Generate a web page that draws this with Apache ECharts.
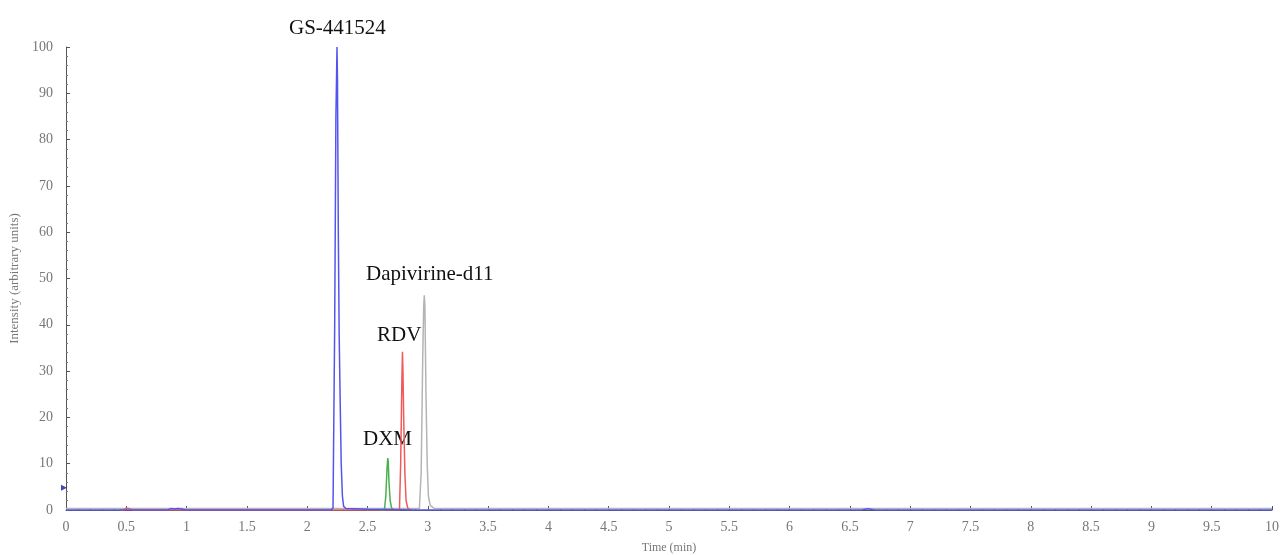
<!DOCTYPE html>
<html>
<head>
<meta charset="utf-8">
<script src="https://cdn.jsdelivr.net/npm/echarts@6/dist/echarts.min.js"></script>
<style>html,body{margin:0;padding:0;background:#fff}#c{width:1286px;height:555px}</style>
</head>
<body>
<div id="c"></div>
<script>
// Time (min) / intensity pairs
const gsTime = [0, 0.84, 0.87, 0.9, 0.93, 0.96, 0.99, 2.20, 2.214, 2.228, 2.238, 2.243, 2.247, 2.251, 2.258, 2.265, 2.272, 2.282, 2.292, 2.302, 2.32, 2.5, 2.9, 6.6, 6.65, 6.7, 10];
const gsVal  = [0, 0, 0.3, 0.2, 0.3, 0.2, 0, 0, 0.5, 40, 85, 93, 100, 93, 60, 38, 26, 10, 3, 0.8, 0.3, 0.15, 0, 0, 0.25, 0, 0];

const dxmTime = [2.60, 2.64, 2.652, 2.662, 2.668, 2.672, 2.678, 2.688, 2.70, 2.72];
const dxmVal  = [0, 0, 3, 9, 11.2, 10.5, 6, 2, 0.4, 0];

const rdvTime = [0.45, 0.48, 0.5, 0.52, 0.55, 2.74, 2.765, 2.775, 2.785, 2.79, 2.794, 2.80, 2.81, 2.82, 2.835, 2.86];
const rdvVal  = [0, 0, 0.4, 0.3, 0, 0, 0, 10, 28, 34.2, 30, 20, 8, 2, 0.3, 0];

const dapTime = [0, 2.90, 2.93, 2.945, 2.958, 2.966, 2.971, 2.976, 2.985, 2.995, 3.005, 3.02, 3.05, 3.1, 10];
const dapVal  = [0.3, 0.3, 0.3, 8, 33, 44, 46.4, 44, 25, 10, 3, 1, 0.4, 0.3, 0.3];

const markerTime = [0];
const markerVal = [4.8];

const peakLabels = ['GS-441524', 'DXM', 'RDV', 'Dapivirine-d11'];

const zip = (a, b) => a.map((t, i) => [t, b[i]]);

const chart = echarts.init(document.getElementById('c'), null, {renderer: 'canvas'});
const serif = 'Liberation Serif';
const lineSeries = (name, t, v, color, z) => ({
  name, type: 'line', data: zip(t, v), showSymbol: false, symbol: 'none',
  lineStyle: {color, width: 1.5}, z, animation: false
});
const labelFont = '21px "Liberation Serif"';

chart.setOption({
  animation: false,
  backgroundColor: '#fff',
  grid: {left: 66, right: 14, top: 47, bottom: 45, containLabel: false, outerBoundsMode: 'none'},
  xAxis: {
    type: 'value', min: 0, max: 10, interval: 0.5,
    name: 'Time (min)', nameLocation: 'middle', nameGap: 32,
    nameTextStyle: {fontFamily: serif, fontSize: 12, color: '#777'},
    axisLine: {lineStyle: {color: '#555', width: 1}},
    axisTick: {inside: true, length: 4, lineStyle: {color: '#555'}},
    minorTick: {show: true, splitNumber: 5, length: 2, lineStyle: {color: '#777'}},
    splitLine: {show: false},
    axisLabel: {fontFamily: serif, fontSize: 14, color: '#777', margin: 10,
      formatter: v => String(v)}
  },
  yAxis: {
    type: 'value', min: 0, max: 100, interval: 10,
    name: 'Intensity (arbitrary units)', nameLocation: 'middle', nameGap: 40,
    nameTextStyle: {fontFamily: serif, fontSize: 13, color: '#777'},
    axisLine: {show: true, lineStyle: {color: '#555', width: 1}},
    axisTick: {show: true, inside: true, length: 4, lineStyle: {color: '#555'}},
    minorTick: {show: true, splitNumber: 5, length: 2, lineStyle: {color: '#777'}},
    splitLine: {show: false},
    axisLabel: {fontFamily: serif, fontSize: 14, color: '#777', margin: 13}
  },
  series: [
    lineSeries('Dapivirine-d11', dapTime, dapVal, '#b4b4b4', 2),
    lineSeries('RDV', rdvTime, rdvVal, '#ef5a5a', 3),
    lineSeries('DXM', dxmTime, dxmVal, '#4caf50', 3),
    lineSeries('GS-441524', gsTime, gsVal, '#5555ee', 4),
    {
      type: 'scatter', data: zip(markerTime, markerVal), symbol: 'triangle',
      symbolSize: [6, 6], symbolRotate: -90, symbolOffset: [-2, 0],
      itemStyle: {color: '#1a1aa0'}, z: 5, silent: true
    }
  ],
  graphic: [
    {type: 'text', left: 289, top: 18, style: {text: peakLabels[0], font: labelFont, fill: '#111'}},
    {type: 'text', left: 363, top: 429, style: {text: peakLabels[1], font: labelFont, fill: '#111'}},
    {type: 'text', left: 377, top: 325, style: {text: peakLabels[2], font: labelFont, fill: '#111'}},
    {type: 'text', left: 366, top: 264, style: {text: peakLabels[3], font: labelFont, fill: '#111'}}
  ]
});
</script>
</body>
</html>
